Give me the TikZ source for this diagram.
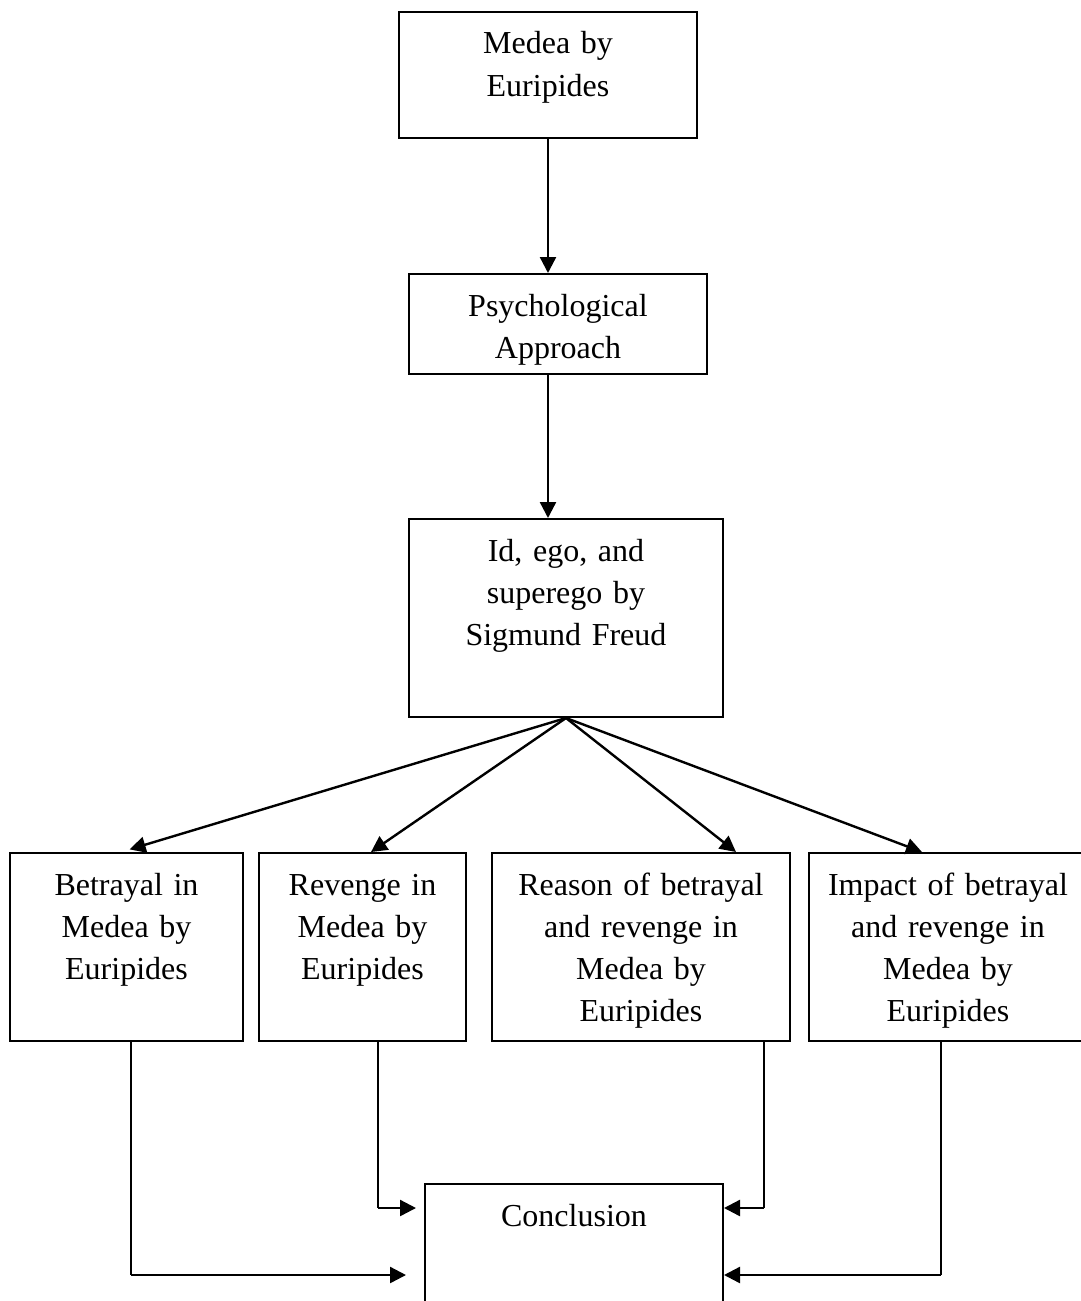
\documentclass[tikz,border=0pt]{standalone}
\usepackage{fontspec}
\setmainfont{Liberation Serif}
\usetikzlibrary{arrows.meta}
\tikzstyle{process} = [
    rectangle,
    anchor=north,
    align=center,
    inner xsep=0pt,
    inner ysep=0pt,
    text height=21pt,
    line width=1pt,
    draw=black,
    font=\fontsize{16pt}{21pt}\selectfont
]
\tikzstyle{arrow} = [line width=1.2pt,-{Triangle[length=8pt,width=8pt]}]
\tikzstyle{line} = [line width=0.6pt]

\begin{document}
\begin{tikzpicture}[x=0.5pt,y=-0.5pt]
\useasboundingbox (0,0) rectangle (1081,1301);

\node (medea) [process, text width=149pt, text depth=42pt] at (548,11)
{Medea by\\Euripides};

\node (psych) [process, text width=149pt, text depth=29pt] at (558,273)
{Psychological\\Approach};

\node (freud) [process, text width=157pt, text depth=78pt] at (566,518)
{Id, ego, and\\superego by\\Sigmund Freud};

\node (betrayal) [process, text width=116.5pt, text depth=73pt] at (126.5,852)
{Betrayal in\\Medea by\\Euripides};

\node (revenge) [process, text width=103.5pt, text depth=73pt] at (362.5,852)
{Revenge in\\Medea by\\Euripides};

\node (reason) [process, text width=149pt, text depth=73pt] at (641,852)
{Reason of betrayal\\and revenge in\\Medea by\\Euripides};

\node (impact) [process, text width=139pt, text depth=73pt] at (948,852)
{Impact of betrayal\\and revenge in\\Medea by\\Euripides};

\node (concl) [process, text width=149pt, text depth=60pt] at (574,1183)
{Conclusion};

\draw [arrow] (medea.south) -- (medea.south |- psych.north);
\draw [arrow] (psych.south -| medea.south) -- (freud.north -| medea.south);

\draw [arrow, shorten >=4.5pt] (freud.south) -- (betrayal.north -| 121,0);
\draw [arrow] (freud.south) -- (revenge.north -| 371,0);
\draw [arrow] (freud.south) -- (reason.north -| 736,0);
\draw [arrow] (freud.south) -- (impact.north -| 922,0);

\coordinate (c1) at (131,1275);
\coordinate (c2) at (378,1208);
\coordinate (c3) at (764,1208);
\coordinate (c4) at (941,1275);

\draw [line] (betrayal.south -| c1) -- (c1);
\draw [arrow, shorten >=9pt] (c1) -- (concl.west |- c1);
\draw [line] (revenge.south -| c2) -- (c2);
\draw [arrow, shorten >=4pt] (c2) -- (concl.west |- c2);
\draw [line] (reason.south -| c3) -- (c3);
\draw [arrow] (c3) -- (concl.east |- c3);
\draw [line] (impact.south -| c4) -- (c4);
\draw [arrow] (c4) -- (concl.east |- c4);

\end{tikzpicture}
\end{document}
